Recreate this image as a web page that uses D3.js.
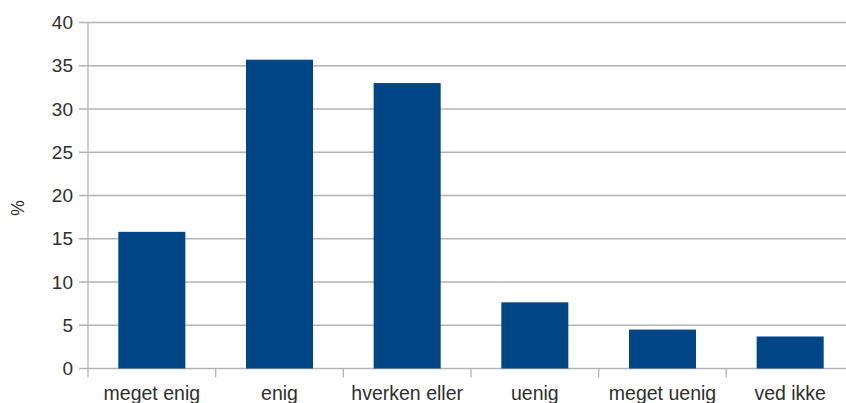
<!DOCTYPE html>
<html>
<head>
<meta charset="utf-8">
<script src="https://cdn.jsdelivr.net/npm/d3@7"></script>
<style>
  html, body { margin: 0; padding: 0; background: #fff; }
  svg { display: block; font-family: "Liberation Sans", Arial, sans-serif; }
</style>
</head>
<body>
<svg id="chart" width="846" height="403"></svg>
<script>
// Survey answers and their share in percent
const categories = ["meget enig", "enig", "hverken eller", "uenig", "meget uenig", "ved ikke"];
const percentages = [15.8, 35.7, 33.0, 7.65, 4.5, 3.7];
const yTicks = [0, 5, 10, 15, 20, 25, 30, 35, 40];

const svg = d3.select("#chart");
const plotLeft = 88, plotRight = 854, plotTop = 22.5, plotBottom = 368.5;

const x = d3.scaleBand().domain(categories).range([plotLeft, plotRight]).paddingInner(0.475).paddingOuter(0.2375);
const xEdges = d3.scaleLinear().domain([0, categories.length]).range([plotLeft, plotRight]);
const y = d3.scaleLinear().domain([0, 40]).range([plotBottom, plotTop]);

const gridColor = "#b3b3b3";
const textColor = "#2e2e2e";

// horizontal grid lines with short ticks left of the axis
svg.append("g").selectAll("line").data(yTicks).join("line")
  .attr("x1", plotLeft - 9).attr("x2", plotRight)
  .attr("y1", d => y(d)).attr("y2", d => y(d))
  .attr("stroke", gridColor).attr("stroke-width", 1.3);

// y-axis line
svg.append("line").attr("x1", plotLeft).attr("x2", plotLeft)
  .attr("y1", plotTop).attr("y2", plotBottom + 9)
  .attr("stroke", gridColor).attr("stroke-width", 1.3);

// category separator ticks below the baseline
svg.append("g").selectAll("line").data(d3.range(1, categories.length + 1)).join("line")
  .attr("x1", d => xEdges(d)).attr("x2", d => xEdges(d))
  .attr("y1", plotBottom).attr("y2", plotBottom + 9)
  .attr("stroke", gridColor).attr("stroke-width", 1.3);

// bars
svg.append("g").selectAll("rect").data(percentages).join("rect")
  .attr("x", (d, i) => x(categories[i]))
  .attr("width", x.bandwidth())
  .attr("y", d => y(d))
  .attr("height", d => y(0) - y(d))
  .attr("fill", "#004586");

// y tick labels
svg.append("g").selectAll("text").data(yTicks).join("text")
  .attr("x", 73).attr("y", d => y(d))
  .attr("dy", "0.35em")
  .attr("text-anchor", "end")
  .attr("font-size", 19)
  .attr("fill", textColor)
  .text(d => d);

// category labels
svg.append("g").selectAll("text").data(categories).join("text")
  .attr("x", d => x(d) + x.bandwidth() / 2).attr("y", 400)
  .attr("text-anchor", "middle")
  .attr("font-size", 19.5)
  .attr("fill", textColor)
  .text(d => d);

// y axis title
svg.append("text")
  .attr("transform", "translate(24,208) rotate(-90)")
  .attr("text-anchor", "middle")
  .attr("font-size", 17.5)
  .attr("fill", textColor)
  .text("%");
</script>
</body>
</html>
